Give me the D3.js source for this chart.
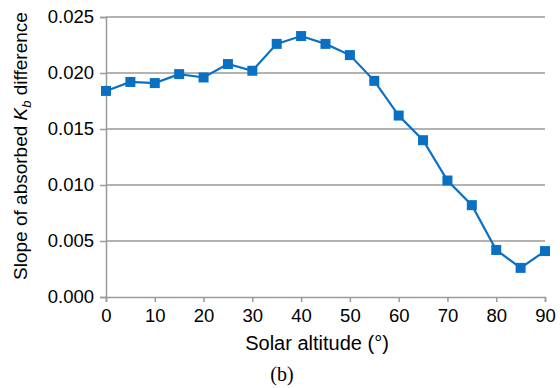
<!DOCTYPE html>
<html>
<head>
<meta charset="utf-8">
<script src="https://cdn.jsdelivr.net/npm/d3@7"></script>
<style>
  html, body { margin: 0; padding: 0; background: #fff; }
  svg { display: block; }
  text { font-family: "Liberation Sans", Arial, Helvetica, sans-serif; fill: #000; }
</style>
</head>
<body>
<svg id="chart" width="560" height="388"></svg>
<script>
// Solar altitude (degrees) and the slope of the absorbed K_b difference
const altitudes = [0, 5, 10, 15, 20, 25, 30, 35, 40, 45, 50, 55, 60, 65, 70, 75, 80, 85, 90];
const slopes = [0.0184, 0.0192, 0.0191, 0.0199, 0.0196, 0.0208, 0.0202, 0.0226, 0.0233, 0.0226,
                0.0216, 0.0193, 0.0162, 0.0140, 0.0104, 0.0082, 0.0042, 0.0026, 0.0041];
const xTicks = [0, 10, 20, 30, 40, 50, 60, 70, 80, 90];
const yTicks = [0, 0.005, 0.010, 0.015, 0.020, 0.025];

const svg = d3.select("#chart");
const margin = { left: 106, right: 15, top: 17, bottom: 91 };
const W = 560, H = 388;
const x = d3.scaleLinear().domain([0, 90]).range([margin.left, W - margin.right]);
const y = d3.scaleLinear().domain([0, 0.025]).range([H - margin.bottom, margin.top]);

const gridColor = "#9a9a9a";
const tickFont = 18.5;

// horizontal gridlines
svg.append("g")
  .selectAll("line")
  .data(yTicks.filter(d => d > 0))
  .join("line")
  .attr("x1", x(0)).attr("x2", x(90))
  .attr("y1", d => y(d)).attr("y2", d => y(d))
  .attr("stroke", gridColor).attr("stroke-width", 1.5);

// y axis
const yAxis = svg.append("g")
  .attr("transform", `translate(${x(0)},0)`)
  .call(d3.axisLeft(y).tickValues(yTicks).tickFormat(d3.format(".3f")).tickSize(6).tickPadding(6));
yAxis.select(".domain").attr("stroke", gridColor).attr("stroke-width", 1.5);
yAxis.selectAll(".tick line").attr("stroke", gridColor).attr("stroke-width", 1.5);
yAxis.selectAll("text").attr("font-size", tickFont).attr("font-family", "Liberation Sans, Arial, sans-serif").attr("fill", "#000");

// x axis
const xAxis = svg.append("g")
  .attr("transform", `translate(0,${y(0)})`)
  .call(d3.axisBottom(x).tickValues(xTicks).tickFormat(d3.format("d")).tickSize(5).tickPadding(7));
xAxis.select(".domain").attr("stroke", gridColor).attr("stroke-width", 1.5);
xAxis.selectAll(".tick line").attr("stroke", gridColor).attr("stroke-width", 1.5);
xAxis.selectAll("text").attr("font-size", tickFont).attr("font-family", "Liberation Sans, Arial, sans-serif").attr("fill", "#000");

// series line
const pts = altitudes.map((a, i) => [a, slopes[i]]);
const blue = "#0a70c4";
svg.append("path")
  .datum(pts)
  .attr("fill", "none")
  .attr("stroke", blue)
  .attr("stroke-width", 2.2)
  .attr("d", d3.line().x(d => x(d[0])).y(d => y(d[1])));

// square markers
const ms = 10;
svg.append("g")
  .selectAll("rect")
  .data(pts)
  .join("rect")
  .attr("x", d => x(d[0]) - ms / 2)
  .attr("y", d => y(d[1]) - ms / 2)
  .attr("width", ms).attr("height", ms)
  .attr("fill", blue);

// axis titles
svg.append("text")
  .attr("x", 317)
  .attr("y", 350)
  .attr("text-anchor", "middle")
  .attr("font-size", 20)
  .text("Solar altitude (°)");

const yl = svg.append("text")
  .attr("transform", "translate(27,146) rotate(-90)")
  .attr("text-anchor", "middle")
  .attr("font-size", 19);
yl.append("tspan").text("Slope of absorbed ");
yl.append("tspan").attr("font-style", "italic").text("K");
yl.append("tspan").attr("font-style", "italic").attr("font-size", 13).attr("dy", 4).text("b");
yl.append("tspan").attr("dy", -4).text(" difference");

// panel label
svg.append("text")
  .attr("x", 282)
  .attr("y", 381)
  .attr("text-anchor", "middle")
  .attr("font-size", 20)
  .style("font-family", "'Liberation Serif', 'Times New Roman', serif")
  .text("(b)");
</script>
</body>
</html>
